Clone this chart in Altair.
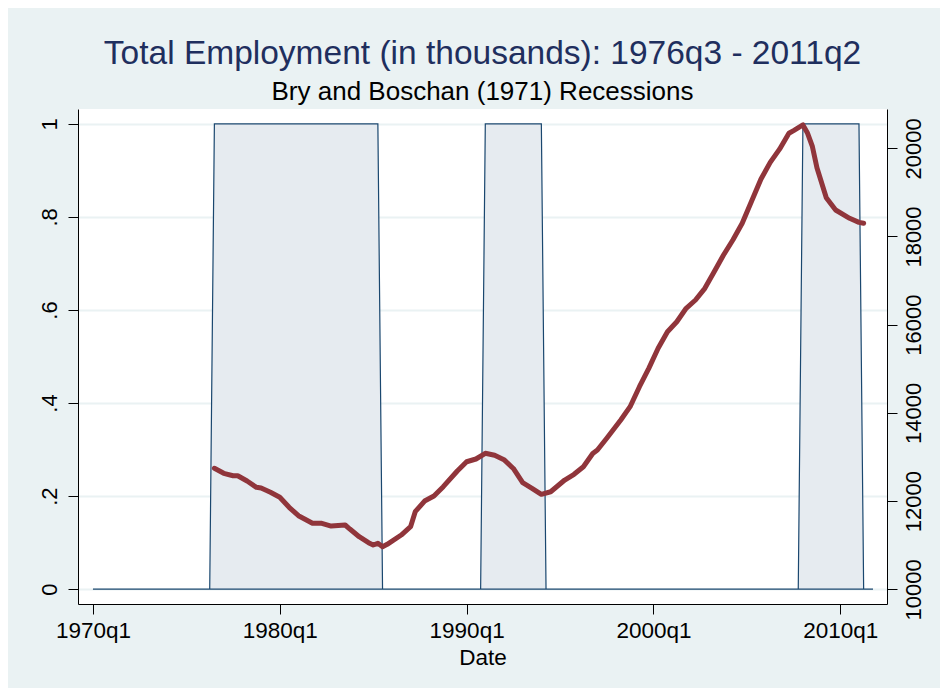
import altair as alt
import pandas as pd

# ---- data (quarter index: 1960q1 = 0) ----
rec_first_q = 40          # 1970q1
rec_last_q = 207          # 2011q4
rec_starts = [66, 124, 192]   # 1976q3, 1991q1, 2008q1
rec_ends = [101, 136, 204]    # 1985q2, 1994q1, 2011q1

emp_q = [66, 68, 70, 71, 73, 75, 76, 78, 80, 82, 84, 87, 89, 91, 94, 95, 97, 99,
         100, 101, 102, 103, 106, 108, 109, 111, 113, 115, 118, 120, 122, 124, 126,
         128, 130, 132, 134, 136, 138, 141, 143, 145, 147, 148, 150, 153, 155, 157,
         159, 161, 163, 165, 167, 169, 171, 173, 175, 177, 179, 181, 183, 185, 187,
         189, 190, 192, 193, 194, 195, 197, 199, 202, 204, 205]
emp_val = [12744, 12630, 12576, 12576, 12456, 12313, 12297, 12200, 12086, 11859,
           11669, 11497, 11497, 11435, 11458, 11367, 11193, 11057, 11005, 11043,
           10966, 11020, 11231, 11420, 11760, 12002, 12116, 12327, 12683, 12893,
           12955, 13084, 13040, 12940, 12740, 12417, 12290, 12154, 12213, 12478,
           12608, 12780, 13080, 13159, 13424, 13839, 14141, 14594, 15011, 15465,
           15841, 16068, 16372, 16560, 16825, 17202, 17581, 17921, 18299, 18800,
           19300, 19680, 19980, 20340, 20400, 20529, 20340, 20050, 19560, 18880,
           18601, 18413, 18320, 18299]

left_ticks = [0, 0.2, 0.4, 0.6, 0.8, 1]
right_ticks = [10000, 12000, 14000, 16000, 18000, 20000]
x_ticks = [40, 80, 120, 160, 200]

title_text = "Total Employment (in thousands): 1976q3 - 2011q2"
subtitle_text = "Bry and Boschan (1971) Recessions"

# ---- tables ----
rec_q = list(range(rec_first_q, rec_last_q + 1))
rec_val = [1 if any(s <= q <= e for s, e in zip(rec_starts, rec_ends)) else 0 for q in rec_q]
rec_df = pd.DataFrame({"q": rec_q, "rec": rec_val})
emp_df = pd.DataFrame({"q": emp_q, "emp": emp_val})

FONT = "Liberation Sans"
x_scale = alt.Scale(domain=[36.8, 210], nice=False, zero=False)

x_axis = alt.Axis(
    values=x_ticks,
    labelExpr="floor(datum.value/4)+1960 + 'q' + (datum.value%4+1)",
    title="Date", grid=False, tickSize=10, labelPadding=5, titlePadding=5,
    labelFontSize=22.5, titleFontSize=22.5, labelFont=FONT, titleFont=FONT,
    titleFontWeight="normal", labelColor="black", titleColor="black",
    domainColor="black", tickColor="black", labelFlush=False,
)

left_axis = alt.Axis(
    orient="left", values=left_ticks, title=None,
    labelExpr="datum.value == 0 ? '0' : datum.value == 1 ? '1' : '.' + format(datum.value*10, 'd')",
    grid=True, gridColor="#EAF2F3", gridWidth=2, tickSize=10,
    labelAngle=270, labelAlign="center", labelBaseline="bottom", labelPadding=7,
    labelFontSize=22, labelFont=FONT, labelColor="black",
    domainColor="black", tickColor="black",
)

right_axis = alt.Axis(
    orient="right", values=right_ticks, title=None, format="d",
    grid=False, tickSize=10,
    labelAngle=270, labelAlign="center", labelBaseline="top", labelPadding=6,
    labelFontSize=22, labelFont=FONT, labelColor="black",
    domainColor="black", tickColor="black",
)

rec = alt.Chart(rec_df).mark_area(
    fill="#E6EBF0", stroke="#1A476F", strokeWidth=1.2, interpolate="linear"
).encode(
    x=alt.X("q:Q", scale=x_scale, axis=x_axis),
    y=alt.Y("rec:Q", scale=alt.Scale(domain=[-0.032, 1.032], nice=False, zero=False), axis=left_axis),
    y2=alt.datum(0),
)

emp = alt.Chart(emp_df).mark_line(
    color="#90353B", strokeWidth=5, strokeCap="round", strokeJoin="round"
).encode(
    x=alt.X("q:Q", scale=x_scale, axis=x_axis),
    y=alt.Y("emp:Q", scale=alt.Scale(domain=[9667, 20891], nice=False, zero=False), axis=right_axis),
)

chart = alt.layer(rec, emp).resolve_scale(y="independent").properties(
    width=809, height=495,
    autosize=alt.AutoSizeParams(type="none"),
    padding={"left": 70, "top": 101, "right": 53, "bottom": 84},
    background="#EAF2F3",
    title=alt.TitleParams(
        text=title_text, subtitle=subtitle_text,
        font=FONT, fontSize=33.5, fontWeight="normal", color="#1F2F5E",
        subtitleFont=FONT, subtitleFontSize=26, subtitleColor="black",
        anchor="middle", offset=3, subtitlePadding=8,
    ),
).configure_view(fill="white", strokeWidth=0)

chart.save("out.html", embed_options={"renderer": "svg", "actions": False})
